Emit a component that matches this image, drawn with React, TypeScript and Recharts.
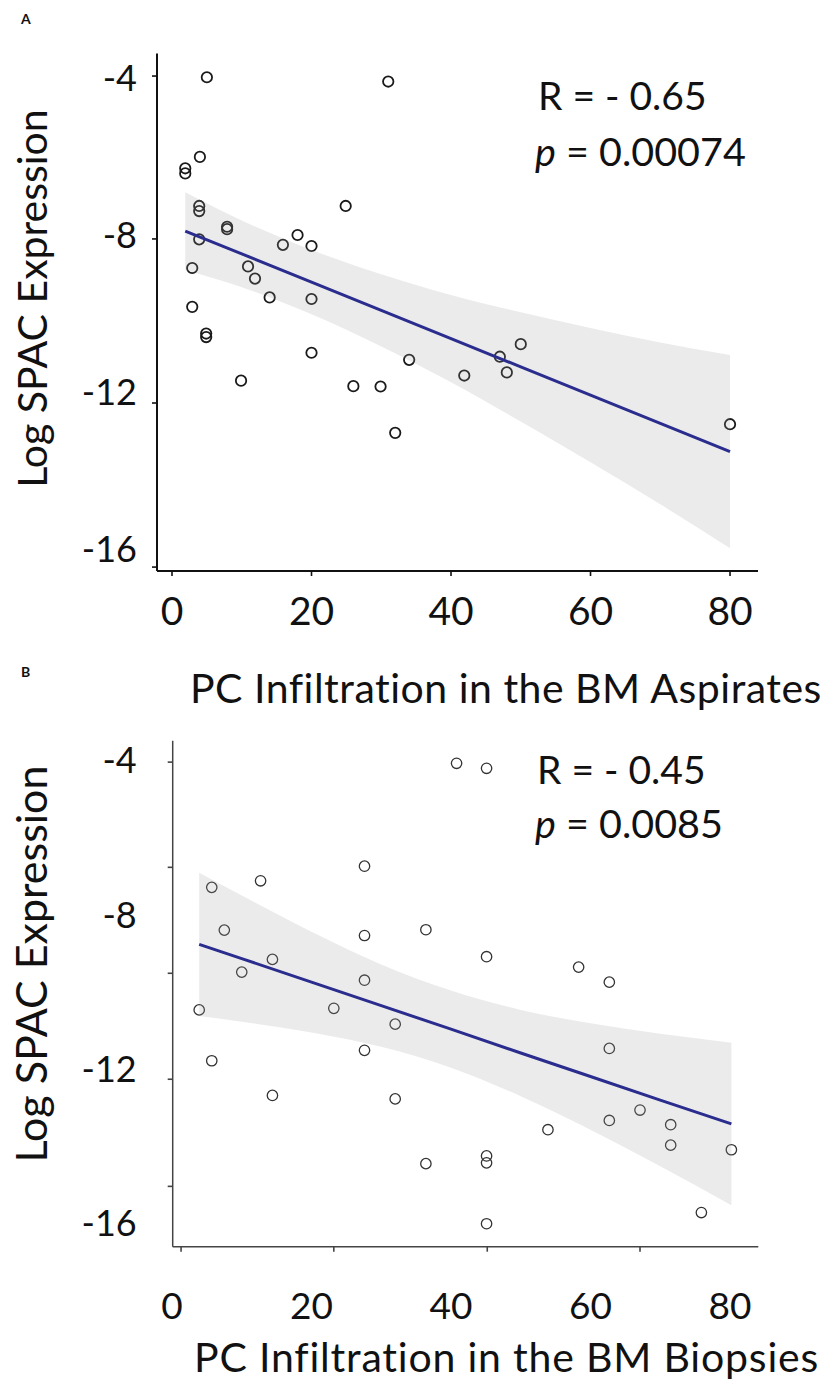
import { ComposedChart, Scatter, Line, Area, XAxis, YAxis } from 'recharts';

const FONT = 'Lato, "Open Sans", sans-serif';

// Panel A: PC infiltration in BM aspirates vs log SPAC expression
const aspirateX = [5, 31, 4, 1.9, 1.9, 3.9, 3.9, 24.9, 7.9, 7.9, 18, 15.9, 20, 3.9, 2.9, 10.9, 11.9, 14, 20, 2.9, 4.9, 4.9, 20, 9.9, 26, 29.9, 32, 34, 41.9, 47, 48, 50, 80];
const aspirateY = [-3.98, -4.09, -6.01, -6.3, -6.43, -7.26, -7.39, -7.26, -7.79, -7.85, -8.0, -8.25, -8.28, -8.11, -8.84, -8.8, -9.11, -9.59, -9.63, -9.83, -10.51, -10.6, -11.0, -11.71, -11.85, -11.86, -13.04, -11.18, -11.58, -11.1, -11.5, -10.78, -12.82];
const aspirateFitX = [1.9, 10, 20, 30, 40, 50, 60, 70, 80];
const aspirateFitY = [-7.9, -8.48, -9.2, -9.92, -10.64, -11.36, -12.08, -12.8, -13.52];
const aspirateBandLow = [-8.89, -9.33, -10.02, -10.84, -11.75, -12.75, -13.79, -14.86, -15.98];
const aspirateBandHigh = [-6.91, -7.63, -8.38, -9.0, -9.53, -9.97, -10.37, -10.74, -11.06];

// Panel B: PC infiltration in BM biopsies
const biopsyX = [40.8, 45.1, 5.7, 12.7, 27.6, 7.5, 14.4, 10, 27.6, 36.4, 45.1, 58.3, 62.7, 3.9, 23.2, 27.6, 32, 27.6, 62.7, 5.7, 14.4, 32, 53.9, 62.7, 67.1, 71.5, 71.5, 80.2, 36.4, 45.1, 45.1, 75.9, 45.1];
const biopsyY = [-4.07, -4.2, -7.29, -7.12, -6.74, -8.4, -9.16, -9.49, -8.54, -8.39, -9.09, -9.36, -9.75, -10.47, -10.43, -9.7, -10.84, -11.52, -11.47, -11.79, -12.69, -12.78, -13.58, -13.34, -13.07, -13.45, -13.98, -14.1, -14.46, -14.26, -14.44, -15.73, -16.02];
const biopsyFitX = [3.9, 10, 20, 30, 40, 50, 60, 70, 80.2];
const biopsyFitY = [-8.77, -9.14, -9.75, -10.36, -10.97, -11.59, -12.2, -12.81, -13.43];
const biopsyBandLow = [-10.63, -10.78, -11.06, -11.43, -11.97, -12.71, -13.58, -14.53, -15.54];
const biopsyBandHigh = [-6.91, -7.5, -8.44, -9.29, -9.97, -10.47, -10.82, -11.09, -11.32];

// tick labels and tick marks (the figure has labels that do not sit on every mark)
const xTickLabels = [0, 20, 40, 60, 80];
const yTickLabels = [-4, -8, -12, -16];
const aspirateXMarks = [0, 20, 40, 60, 80];
const aspirateYMarks = [-3.95, -8.1, -12.28, -16.46];
const biopsyXMarks = [1.3, 23.2, 45.2, 67.1];
const biopsyYMarks = [-4.04, -6.77, -9.52, -12.27, -15.05];

const zip = (xs: number[], ys: number[]) => xs.map((x, i) => ({ x, y: ys[i] }));
const fitRows = (xs: number[], ys: number[], lo: number[], hi: number[]) =>
    xs.map((x, i) => ({ x, fit: ys[i], band: [lo[i], hi[i]] }));

type TickOpts = { color: string; gap: number; size: number };

function makeTick(marks: number[], labels: number[], side: 'left' | 'bottom', o: TickOpts) {
    return (props: any) => {
        const { x, y, payload } = props;
        const v = payload.value;
        const cap = o.size * 0.358;
        return (
            <g>
                {marks.includes(v) &&
                    (side === 'left' ? (
                        <line x1={x - 5} x2={x} y1={y} y2={y} stroke={o.color} strokeWidth={1.6} />
                    ) : (
                        <line x1={x} x2={x} y1={y} y2={y + 5} stroke={o.color} strokeWidth={1.6} />
                    ))}
                {labels.includes(v) &&
                    (side === 'left' ? (
                        <text x={x - o.gap} y={y + cap} textAnchor="end" fontFamily={FONT} fontSize={o.size} fill="#111">
                            {v}
                        </text>
                    ) : (
                        <text x={x} y={y + o.gap + cap} textAnchor="middle" fontFamily={FONT} fontSize={o.size} fill="#111">
                            {v}
                        </text>
                    ))}
            </g>
        );
    };
}

type PanelProps = {
    top: number;
    height: number;
    margin: { top: number; right: number; bottom: number; left: number };
    yAxisWidth: number;
    xDomain: [number, number];
    yDomain: [number, number];
    points: { x: number; y: number }[];
    fit: { x: number; fit: number; band: number[] }[];
    xMarks: number[];
    yMarks: number[];
    axisColor: string;
    axisWidth: number;
    dotColor: string;
    dotWidth: number;
    yLabelGap: number;
    xLabelGap: number;
    xLabelSize: number;
};

function Panel(p: PanelProps) {
    const xTicks = Array.from(new Set([...p.xMarks, ...xTickLabels]));
    const yTicks = Array.from(new Set([...p.yMarks, ...yTickLabels]));
    return (
        <div style={{ position: 'absolute', left: 0, top: p.top }}>
            <ComposedChart width={825} height={p.height} data={p.fit} margin={p.margin}>
                <XAxis
                    type="number"
                    dataKey="x"
                    domain={p.xDomain}
                    allowDataOverflow
                    ticks={xTicks}
                    interval={0}
                    tickSize={0}
                    tickMargin={0}
                    tickLine={false}
                    height={40}
                    axisLine={{ stroke: p.axisColor, strokeWidth: p.axisWidth }}
                    tick={makeTick(p.xMarks, xTickLabels, 'bottom', { color: p.axisColor, gap: p.xLabelGap, size: p.xLabelSize })}
                />
                <YAxis
                    type="number"
                    domain={p.yDomain}
                    allowDataOverflow
                    ticks={yTicks}
                    interval={0}
                    tickSize={0}
                    tickMargin={0}
                    tickLine={false}
                    width={p.yAxisWidth}
                    axisLine={{ stroke: p.axisColor, strokeWidth: p.axisWidth }}
                    tick={makeTick(p.yMarks, yTickLabels, 'left', { color: p.axisColor, gap: p.yLabelGap, size: 36 })}
                />
                <Scatter
                    data={p.points}
                    dataKey="y"
                    isAnimationActive={false}
                    zIndex={50}
                    shape={(s: any) => (
                        <circle cx={s.cx} cy={s.cy} r={5.2} fill="none" stroke={p.dotColor} strokeWidth={p.dotWidth} />
                    )}
                />
                <Area
                    dataKey="band"
                    type="monotone"
                    stroke="none"
                    fill="#999999"
                    fillOpacity={0.2}
                    isAnimationActive={false}
                    zIndex={100}
                />
                <Line
                    dataKey="fit"
                    type="linear"
                    stroke="#2b2d8e"
                    strokeWidth={3}
                    dot={false}
                    activeDot={false}
                    isAnimationActive={false}
                    zIndex={400}
                />
            </ComposedChart>
        </div>
    );
}

export default function App() {
    return (
        <div style={{ position: 'absolute', left: 0, top: 0, width: 825, height: 1395, background: '#fff' }}>
            <Panel
                top={0}
                height={720}
                margin={{ top: 53.6, right: 67, bottom: 109, left: 0 }}
                yAxisWidth={157}
                xDomain={[-2.15, 84.01]}
                yDomain={[-16.56, -3.378]}
                points={zip(aspirateX, aspirateY)}
                fit={fitRows(aspirateFitX, aspirateFitY, aspirateBandLow, aspirateBandHigh)}
                xMarks={aspirateXMarks}
                yMarks={aspirateYMarks}
                axisColor="#111"
                axisWidth={2}
                dotColor="#1a1a1a"
                dotWidth={1.8}
                yLabelGap={20}
                xLabelGap={40}
                xLabelSize={39}
            />
            <Panel
                top={720}
                height={675}
                margin={{ top: 20.7, right: 66.7, bottom: 108.3, left: 0 }}
                yAxisWidth={172.7}
                xDomain={[0.1, 84.06]}
                yDomain={[-16.616, -3.484]}
                points={zip(biopsyX, biopsyY)}
                fit={fitRows(biopsyFitX, biopsyFitY, biopsyBandLow, biopsyBandHigh)}
                xMarks={biopsyXMarks}
                yMarks={biopsyYMarks}
                axisColor="#444"
                axisWidth={1.5}
                dotColor="#333"
                dotWidth={1.3}
                yLabelGap={36}
                xLabelGap={59}
                xLabelSize={37}
            />
            <svg width={825} height={1395} style={{ position: 'absolute', left: 0, top: 0, pointerEvents: 'none' }}>
                <g fontFamily={FONT} fill="#111" style={{ fontVariantLigatures: 'none' }}>
                    <text x={21} y={24} fontSize={14} fontWeight={700}>A</text>
                    <text x={21} y={676.5} fontSize={14} fontWeight={700}>B</text>
                    <text transform="translate(46.7,298.5) rotate(-90)" textAnchor="middle" fontSize={41}>
                        Log SPAC Expression
                    </text>
                    <text transform="translate(46.7,964) rotate(-90)" textAnchor="middle" fontSize={43}>
                        Log SPAC Expression
                    </text>
                    <text x={190} y={703} fontSize={41} letterSpacing={0.5}>PC Infiltration in the BM Aspirates</text>
                    <text x={194} y={1371.7} fontSize={41} letterSpacing={0.8}>PC Infiltration in the BM Biopsies</text>
                    <text x={538} y={110.4} fontSize={39}>R = - 0.65</text>
                    <text x={535} y={166} fontSize={39.5}>
                        <tspan fontStyle="italic">p</tspan> = 0.00074
                    </text>
                    <text x={537} y={783.6} fontSize={39}>R = - 0.45</text>
                    <text x={535} y={838} fontSize={39.5}>
                        <tspan fontStyle="italic">p</tspan> = 0.0085
                    </text>
                </g>
            </svg>
        </div>
    );
}
